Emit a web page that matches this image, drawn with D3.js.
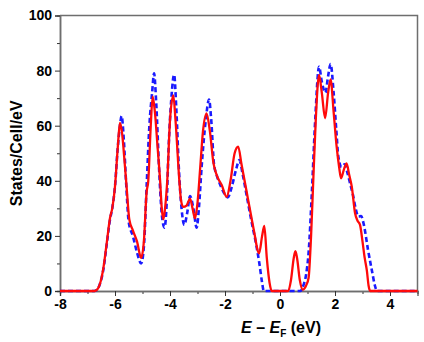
<!DOCTYPE html>
<html>
<head>
<meta charset="utf-8">
<script src="https://cdn.jsdelivr.net/npm/d3@7"></script>
<style>
  body { margin: 0; background: #fff; }
  text { font-family: "Liberation Sans", Arial, sans-serif; }
</style>
</head>
<body>
<div id="chart"></div>
<script>
// Axis ticks
var xTicks = [-8, -6, -4, -2, 0, 2, 4];
var xMinor = [-7, -5, -3, -1, 1, 3, 5];
var yTicks = [0, 20, 40, 60, 80, 100];
var yMinor = [10, 30, 50, 70, 90];

// DOS curves, [E - EF, states]
var redDos = [[-8,0],[-6.75,0],[-6.65,0.5],[-6.55,2.5],[-6.42,8.5],[-6.3,17.5],[-6.18,26.6],[-6.1,30],[-6.0,38],
  [-5.9,52],[-5.82,61],[-5.74,57],[-5.66,48],[-5.58,38],[-5.48,26],[-5.35,22],[-5.2,18],[-5.05,12],[-4.95,18],
  [-4.85,36],[-4.79,40],[-4.7,60],[-4.63,70.5],[-4.55,65],[-4.45,52],[-4.36,40],[-4.3,30],[-4.24,26],[-4.18,30],
  [-4.1,40],[-4.0,62],[-3.88,71],[-3.8,62],[-3.66,40],[-3.6,33],[-3.52,30.5],[-3.4,31],[-3.27,33.5],[-3.18,30],
  [-3.09,26.4],[-3.0,32],[-2.9,45],[-2.8,58],[-2.67,64.5],[-2.55,58],[-2.42,46.5],[-2.3,42],[-2.12,38.5],
  [-1.94,34.2],[-1.8,40],[-1.65,50],[-1.52,52.4],[-1.4,46],[-1.25,38],[-1.09,29.4],[-0.95,22],[-0.76,13.7],
  [-0.65,20],[-0.57,23.6],[-0.48,12],[-0.38,3],[-0.3,0],[0.3,0],[0.4,4],[0.5,12],[0.56,14.5],[0.62,12],[0.72,4],
  [0.83,0.5],[0.95,2],[1.04,4.8],[1.13,20],[1.22,42.8],[1.3,62],[1.42,78.4],[1.52,72],[1.64,62.7],[1.75,72],
  [1.84,76.8],[1.95,65],[2.06,52.4],[2.15,45],[2.22,40.9],[2.32,44],[2.42,46.3],[2.52,42],[2.61,37.9],[2.73,28.2],
  [2.82,25.5],[2.91,24],[3.0,18],[3.08,12],[3.16,7.3],[3.22,2],[3.28,0],[5,0]];

var blueDos = [[-8,0],[-6.75,0],[-6.65,0.5],[-6.55,2.5],[-6.42,8],[-6.3,17],[-6.18,26],[-6.1,30],[-6.0,38],
  [-5.9,52],[-5.82,60],[-5.76,63.5],[-5.68,55],[-5.6,40],[-5.5,25],[-5.35,20],[-5.2,14],[-5.05,10],[-4.95,16],
  [-4.85,38],[-4.75,60],[-4.65,72],[-4.58,79],[-4.5,68],[-4.4,45],[-4.3,28],[-4.2,23],[-4.12,32],[-4.05,52],
  [-3.95,70],[-3.85,78.5],[-3.77,66],[-3.68,45],[-3.58,30],[-3.48,24],[-3.38,28],[-3.27,34.5],[-3.15,30],
  [-3.03,23],[-2.95,30],[-2.85,45],[-2.7,62],[-2.58,69.5],[-2.5,62],[-2.4,46],[-2.3,42],[-2.15,38],[-2.0,35],
  [-1.9,34],[-1.75,38],[-1.6,44],[-1.48,47.5],[-1.35,42],[-1.2,34],[-1.05,26],[-0.85,16],[-0.75,10],[-0.65,3],
  [-0.59,0],[0.74,0],[0.85,2],[0.95,6],[1.04,13.9],[1.16,36],[1.28,62],[1.42,81.4],[1.52,76],[1.65,72],[1.75,78],
  [1.84,82.4],[1.95,72],[2.05,58],[2.12,48.8],[2.24,45],[2.35,46],[2.45,43],[2.55,39],[2.65,35],[2.75,30],
  [2.85,27],[2.95,27.2],[3.05,24],[3.2,15],[3.35,7],[3.45,2],[3.53,0],[5,0]];

var W = 424, H = 342;
var margin = {top: 15.5, right: 6.5, bottom: 51, left: 60};

var svg = d3.select("#chart").append("svg")
    .attr("width", W).attr("height", H);

var x = d3.scaleLinear().domain([-8, 5]).range([margin.left, W - margin.right]);
var y = d3.scaleLinear().domain([0, 100]).range([H - margin.bottom, margin.top]);

var axisColor = "#6e6e6e";

// Top and right frame
svg.append("path")
    .attr("d", "M" + x(-8) + "," + y(100) + "H" + x(5) + "V" + y(0))
    .attr("fill", "none").attr("stroke", axisColor).attr("stroke-width", 1.5);

function styleAxis(g) {
  g.select(".domain").attr("stroke", axisColor).attr("stroke-width", 1.5);
  g.selectAll(".tick line").attr("stroke", "#333").attr("stroke-width", 1);
  g.selectAll(".tick text").attr("fill", "#000")
    .style("font-size", "14px").style("font-weight", "bold")
    .style("font-family", "'Liberation Sans', Arial, sans-serif");
}

// Minor ticks
svg.append("g").attr("transform", "translate(0," + y(0) + ")")
    .call(d3.axisBottom(x).tickValues(xMinor).tickSize(3).tickFormat(""))
    .call(styleAxis);
svg.append("g").attr("transform", "translate(" + x(-8) + ",0)")
    .call(d3.axisLeft(y).tickValues(yMinor).tickSize(3).tickFormat(""))
    .call(styleAxis);

// Major ticks
svg.append("g").attr("transform", "translate(0," + y(0) + ")")
    .call(d3.axisBottom(x).tickValues(xTicks).tickSize(5).tickPadding(3).tickFormat(function(d) { return String(d); }))
    .call(styleAxis);
svg.append("g").attr("transform", "translate(" + x(-8) + ",0)")
    .call(d3.axisLeft(y).tickValues(yTicks).tickSize(5).tickPadding(3).tickFormat(function(d) { return String(d); }))
    .call(styleAxis);

var line = d3.line()
    .x(function(d) { return x(d[0]); })
    .y(function(d) { return y(d[1]); })
    .curve(d3.curveMonotoneX);

svg.append("path").datum(blueDos)
    .attr("d", line)
    .attr("fill", "none").attr("stroke", "#1a1aff")
    .attr("stroke-width", 2.6).attr("stroke-dasharray", "5,3");

svg.append("path").datum(redDos)
    .attr("d", line)
    .attr("fill", "none").attr("stroke", "#ff0a0a")
    .attr("stroke-width", 2.3).attr("stroke-linejoin", "round");

// Axis titles
svg.append("text")
    .attr("transform", "translate(22," + ((y(0) + y(100)) / 2) + ") rotate(-90)")
    .attr("text-anchor", "middle")
    .style("font-size", "16px").style("font-weight", "bold")
    .text("States/Cell/eV");

var xt = svg.append("text")
    .attr("x", 281).attr("y", 333)
    .attr("text-anchor", "middle")
    .style("font-size", "16px").style("font-weight", "bold");
xt.append("tspan").style("font-style", "italic").text("E");
xt.append("tspan").text(" \u2013 ");
xt.append("tspan").style("font-style", "italic").text("E");
xt.append("tspan").attr("dy", 4).style("font-size", "10px").text("F");
xt.append("tspan").attr("dy", -4).text(" (eV)");
</script>
</body>
</html>
